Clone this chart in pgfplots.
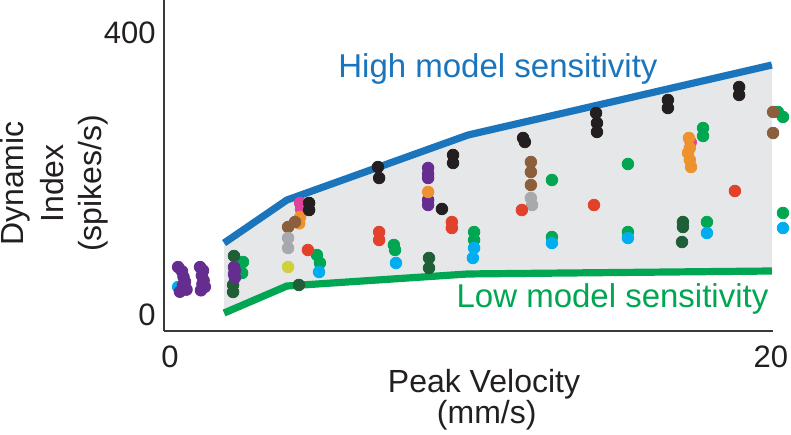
\documentclass[border=0pt]{standalone}
\usepackage{fontspec}
\setmainfont{Liberation Sans}
\usepackage{pgfplots}
\pgfplotsset{compat=1.18}
\definecolor{textc}{HTML}{231F20}
\definecolor{axc}{HTML}{3A3A3A}
\definecolor{hiblue}{HTML}{1B75BC}
\definecolor{logreen}{HTML}{00A651}
\definecolor{shade}{HTML}{E6E7E8}
\definecolor{cpurple}{HTML}{662D91}
\definecolor{cblack}{HTML}{231F20}
\definecolor{cdkgreen}{HTML}{1F5E36}
\definecolor{cgreen}{HTML}{00A651}
\definecolor{cltblue}{HTML}{00AEEF}
\definecolor{cred}{HTML}{E2412B}
\definecolor{corange}{HTML}{EE922E}
\definecolor{cbrown}{HTML}{8B5E3C}
\definecolor{cgray}{HTML}{A7A9AC}
\definecolor{cyellow}{HTML}{CFD13C}
\definecolor{cmagenta}{HTML}{E0449A}
\pgfplotsset{
  dots/.style={only marks, mark=*, mark size=2.9pt, color=#1, mark options={draw=#1, fill=#1}},
}
\begin{document}
\begin{tikzpicture}
\begin{axis}[
  scale only axis,
  width=304.5pt, height=165.5pt,
  xmin=-0.1997, xmax=20.0666,
  ymin=-22.7, ymax=446.8,
  axis x line=bottom, axis y line=left,
  axis line style={-, color=axc, line width=1pt},
  xtick={0,20}, ytick={0,400},
  major tick length=0pt,
  /pgf/number format/assume math mode=true,
  tick label style={font=\fontsize{15.5}{18}\selectfont, text=textc},
  xticklabel style={anchor=north, inner sep=0pt, yshift=-7pt},
  yticklabel style={anchor=east, inner sep=0pt, xshift=-4pt},
  clip=false,
]
% shaded band between the two model curves
\addplot[fill=shade, draw=none, mark=none] coordinates {
  (1.80,102.1) (3.89,163.1) (9.92,255.3) (20.03,354.6)
  (20.03,62.4) (9.92,58.2) (3.89,41.1) (1.80,2.8)
} -- cycle;
\addplot[hiblue, line width=3.6pt, mark=none, sharp plot] coordinates {
  (1.80,102.1) (3.89,163.1) (9.92,255.3) (20.03,354.6)
};
\addplot[logreen, line width=3.6pt, mark=none, sharp plot] coordinates {
  (1.80,2.8) (3.89,41.1) (9.92,58.2) (20.03,62.4)
};
% light blue (hidden one behind purple)
\addplot[dots=cltblue] table {
0.27 39.7
};
% green
\addplot[dots=cgreen] table {
2.43 75.2
2.40 59.6
4.89 85.1
4.99 73.8
7.45 99.3
7.49 92.2
10.12 117.7
10.12 106.4
12.71 110.6
12.71 191.5
15.24 214.2
15.24 117.7
17.74 265.2
17.74 253.9
17.87 131.9
20.23 288.0
20.40 280.9
20.40 144.7
};
% light blue
\addplot[dots=cltblue] table {
4.96 61.0
7.52 73.8
10.12 95.0
10.08 80.9
12.71 102.1
15.24 109.2
17.87 116.3
20.40 123.4
};
% dark green
\addplot[dots=cdkgreen] table {
2.13 83.7
2.10 42.6
2.10 32.6
4.29 42.6
8.62 80.9
8.62 66.7
17.07 131.9
17.07 124.8
17.04 103.5
};
% purple
\addplot[dots=cpurple] table {
0.27 68.0
0.40 62.0
0.45 54.0
0.50 47.0
0.43 42.0
0.33 33.0
0.55 36.0
1.00 68.0
1.10 63.0
1.06 56.0
1.12 49.0
1.08 44.0
1.03 35.0
1.16 40.0
2.13 68.0
2.16 63.0
2.13 58.0
2.16 53.0
8.59 208.5
8.59 200.0
8.59 194.3
8.59 163.1
8.59 156.0
};
% magenta
\addplot[dots=cmagenta] table {
4.33 158.9
4.36 150.0
17.33 245.0
};
% orange
\addplot[dots=corange] table {
4.33 139.0
4.30 130.0
8.59 174.5
17.27 251.1
17.30 236.9
17.24 229.8
17.30 219.9
17.34 209.9
};
% brown
\addplot[dots=cbrown] table {
3.93 124.8
4.16 131.9
12.01 217.0
12.01 202.8
12.01 184.4
20.07 288.0
20.07 258.2
};
% gray
\addplot[dots=cgray] table {
3.93 109.2
3.93 95.0
12.01 166.0
12.05 156.0
};
% yellow-green
\addplot[dots=cyellow] table {
3.93 68.1
};
% red
\addplot[dots=cred] table {
4.59 92.2
6.96 117.7
6.96 106.4
9.38 131.9
9.38 123.4
11.71 148.9
14.11 156.0
18.80 175.9
};
% black
\addplot[dots=cblack] table {
4.63 158.9
4.63 148.9
6.92 209.9
6.96 194.3
9.05 150.4
9.42 227.0
9.42 215.6
11.75 251.1
11.81 245.4
14.18 286.5
14.21 272.3
14.21 259.6
16.57 305.0
16.57 293.6
18.94 323.4
18.94 312.1
};
% texts
\node[anchor=base, inner sep=0pt, text=hiblue, font=\fontsize{16.5}{19}\selectfont]
  at (rel axis cs:0.5484,0.7665) {High model sensitivity};
\node[anchor=base, inner sep=0pt, text=logreen, font=\fontsize{16.5}{19}\selectfont]
  at (rel axis cs:0.7365,0.0725) {Low model sensitivity};
\node[anchor=base, inner sep=0pt, text=textc, font=\fontsize{16}{19}\selectfont]
  at (rel axis cs:0.5255,-0.1873) {Peak Velocity};
\node[anchor=base, inner sep=0pt, text=textc, font=\fontsize{16}{19}\selectfont]
  at (rel axis cs:0.5300,-0.2780) {(mm/s)};
\node[anchor=base, inner sep=0pt, rotate=90, text=textc, font=\fontsize{16}{19}\selectfont]
  at (rel axis cs:-0.2299,0.4456) {Dynamic};
\node[anchor=base, inner sep=0pt, rotate=90, text=textc, font=\fontsize{16}{19}\selectfont]
  at (rel axis cs:-0.1658,0.4456) {Index};
\node[anchor=base, inner sep=0pt, rotate=90, text=textc, font=\fontsize{16}{19}\selectfont]
  at (rel axis cs:-0.1034,0.4456) {(spikes/s)};
\coordinate (BBll) at (rel axis cs:-0.2693,-0.3112);
\coordinate (BBur) at (rel axis cs:1.0296,1.0);
\end{axis}
\pgfresetboundingbox
\path[use as bounding box] (BBll) rectangle (BBur);
\end{tikzpicture}
\end{document}
